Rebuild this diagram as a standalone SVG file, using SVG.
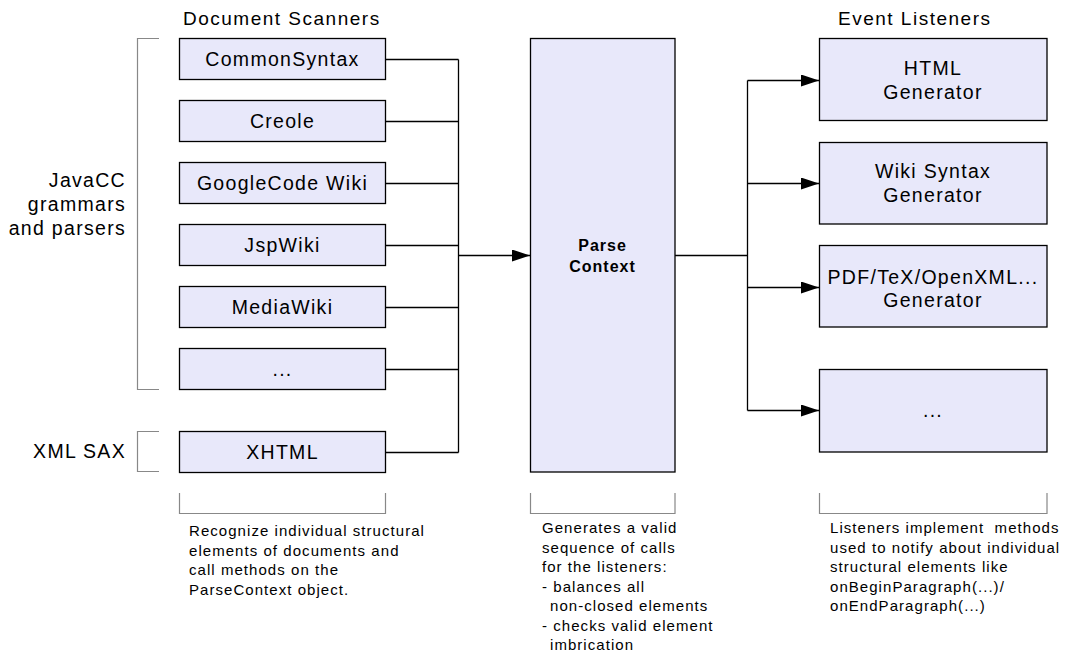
<svg xmlns="http://www.w3.org/2000/svg" width="1077" height="659" viewBox="0 0 1077 659">
<defs>
<style>
.box{fill:#E8E8FA;stroke:#000;stroke-width:1.3}
.lbl{font-family:"Liberation Sans",Arial,sans-serif;font-size:19.5px;letter-spacing:1.3px;fill:#000;text-anchor:middle}
.side{font-family:"Liberation Sans",Arial,sans-serif;font-size:19.5px;letter-spacing:1.3px;fill:#000;text-anchor:end}
.title{font-family:"Liberation Sans",Arial,sans-serif;font-size:19px;letter-spacing:1.5px;fill:#000}
.note{font-family:"Liberation Sans",Arial,sans-serif;font-size:15px;letter-spacing:1.05px;fill:#000}
.pc{font-family:"Liberation Sans",Arial,sans-serif;font-size:16px;font-weight:bold;letter-spacing:1px;fill:#000;text-anchor:middle}
.br{fill:none;stroke:#888;stroke-width:1.2}
.ln{fill:none;stroke:#000;stroke-width:1.3}
</style>
<marker id="arr" markerUnits="userSpaceOnUse" markerWidth="18" markerHeight="12" refX="18" refY="6" orient="auto">
<path d="M0,0 L18,6 L0,12 Z" fill="#000"/>
</marker>
</defs>
<rect width="1077" height="659" fill="#fff"/>

<g id="titles">
<text class="title" x="183" y="25">Document Scanners</text>
<text class="title" x="838" y="25">Event Listeners</text>
</g>

<g id="side-labels">
<text class="side" x="126" y="187">JavaCC</text>
<text class="side" x="126" y="211">grammars</text>
<text class="side" x="126" y="235">and parsers</text>
<text class="side" x="126" y="458">XML SAX</text>
<path class="br" d="M159,38.5 H137.5 V389.5 H159"/>
<path class="br" d="M159,431.5 H137.5 V471.5 H159"/>
</g>

<g id="connectors">
<path class="ln" d="M386,59.5 H458.5 M386,121.5 H458.5 M386,183.5 H458.5 M386,245.5 H458.5 M386,307.5 H458.5 M386,369.5 H458.5 M386,452.5 H458.5 M458.5,59.5 V452.5"/>
<path class="ln" d="M458.5,255.5 H530" marker-end="url(#arr)"/>
<path class="ln" d="M675,255.5 H747.5 M747.5,80.5 V410.5"/>
<path class="ln" d="M747.5,80.5 H819" marker-end="url(#arr)"/>
<path class="ln" d="M747.5,183.5 H819" marker-end="url(#arr)"/>
<path class="ln" d="M747.5,287.5 H819" marker-end="url(#arr)"/>
<path class="ln" d="M747.5,410.5 H819" marker-end="url(#arr)"/>
</g>

<g id="commonsyntax"><rect class="box" x="179.5" y="38.5" width="206" height="41"/><text class="lbl" x="282.5" y="66">CommonSyntax</text></g>
<g id="creole"><rect class="box" x="179.5" y="100.5" width="206" height="41"/><text class="lbl" x="282.5" y="128">Creole</text></g>
<g id="googlecode"><rect class="box" x="179.5" y="162.5" width="206" height="41"/><text class="lbl" x="282.5" y="190">GoogleCode Wiki</text></g>
<g id="jspwiki"><rect class="box" x="179.5" y="224.5" width="206" height="41"/><text class="lbl" x="282.5" y="252">JspWiki</text></g>
<g id="mediawiki"><rect class="box" x="179.5" y="286.5" width="206" height="41"/><text class="lbl" x="282.5" y="314">MediaWiki</text></g>
<g id="other-scanner"><rect class="box" x="179.5" y="348.5" width="206" height="41"/><text class="lbl" x="282.5" y="376">...</text></g>
<g id="xhtml"><rect class="box" x="179.5" y="431.5" width="206" height="41"/><text class="lbl" x="282.5" y="459">XHTML</text></g>

<g id="parse-context"><rect class="box" x="530.5" y="38.5" width="144.5" height="433.5"/><text class="pc" x="602.5" y="251">Parse</text><text class="pc" x="602.5" y="272">Context</text></g>

<g id="html-generator"><rect class="box" x="819.5" y="38.5" width="227.5" height="82"/><text class="lbl" x="933" y="75">HTML</text><text class="lbl" x="933" y="99">Generator</text></g>
<g id="wiki-generator"><rect class="box" x="819.5" y="142.5" width="227.5" height="81.5"/><text class="lbl" x="933" y="178">Wiki Syntax</text><text class="lbl" x="933" y="202">Generator</text></g>
<g id="pdf-generator"><rect class="box" x="819.5" y="245.5" width="227.5" height="81.5"/><text class="lbl" x="933" y="284">PDF/TeX/OpenXML...</text><text class="lbl" x="933" y="307">Generator</text></g>
<g id="other-listener"><rect class="box" x="819.5" y="369.5" width="227.5" height="82.5"/><text class="lbl" x="933" y="417">...</text></g>

<g id="notes">
<path class="br" d="M179.5,493 V513.5 H385.5 V493"/>
<path class="br" d="M530.5,493 V513.5 H675 V493"/>
<path class="br" d="M819.5,493 V513.5 H1047 V493"/>
<text class="note" x="189" y="536">Recognize individual structural</text>
<text class="note" x="189" y="555.5">elements of documents and</text>
<text class="note" x="189" y="575">call methods on the</text>
<text class="note" x="189" y="594.5">ParseContext object.</text>
<text class="note" x="542" y="533">Generates a valid</text>
<text class="note" x="542" y="552.5">sequence of calls</text>
<text class="note" x="542" y="572">for the listeners:</text>
<text class="note" x="542" y="591.5">- balances all</text>
<text class="note" x="550" y="611">non-closed elements</text>
<text class="note" x="542" y="630.5">- checks valid element</text>
<text class="note" x="550" y="650">imbrication</text>
<text class="note" x="830" y="533" xml:space="preserve">Listeners implement  methods</text>
<text class="note" x="830" y="552.5">used to notify about individual</text>
<text class="note" x="830" y="572">structural elements like</text>
<text class="note" x="830" y="591.5">onBeginParagraph(...)/</text>
<text class="note" x="830" y="611">onEndParagraph(...)</text>
</g>
</svg>
